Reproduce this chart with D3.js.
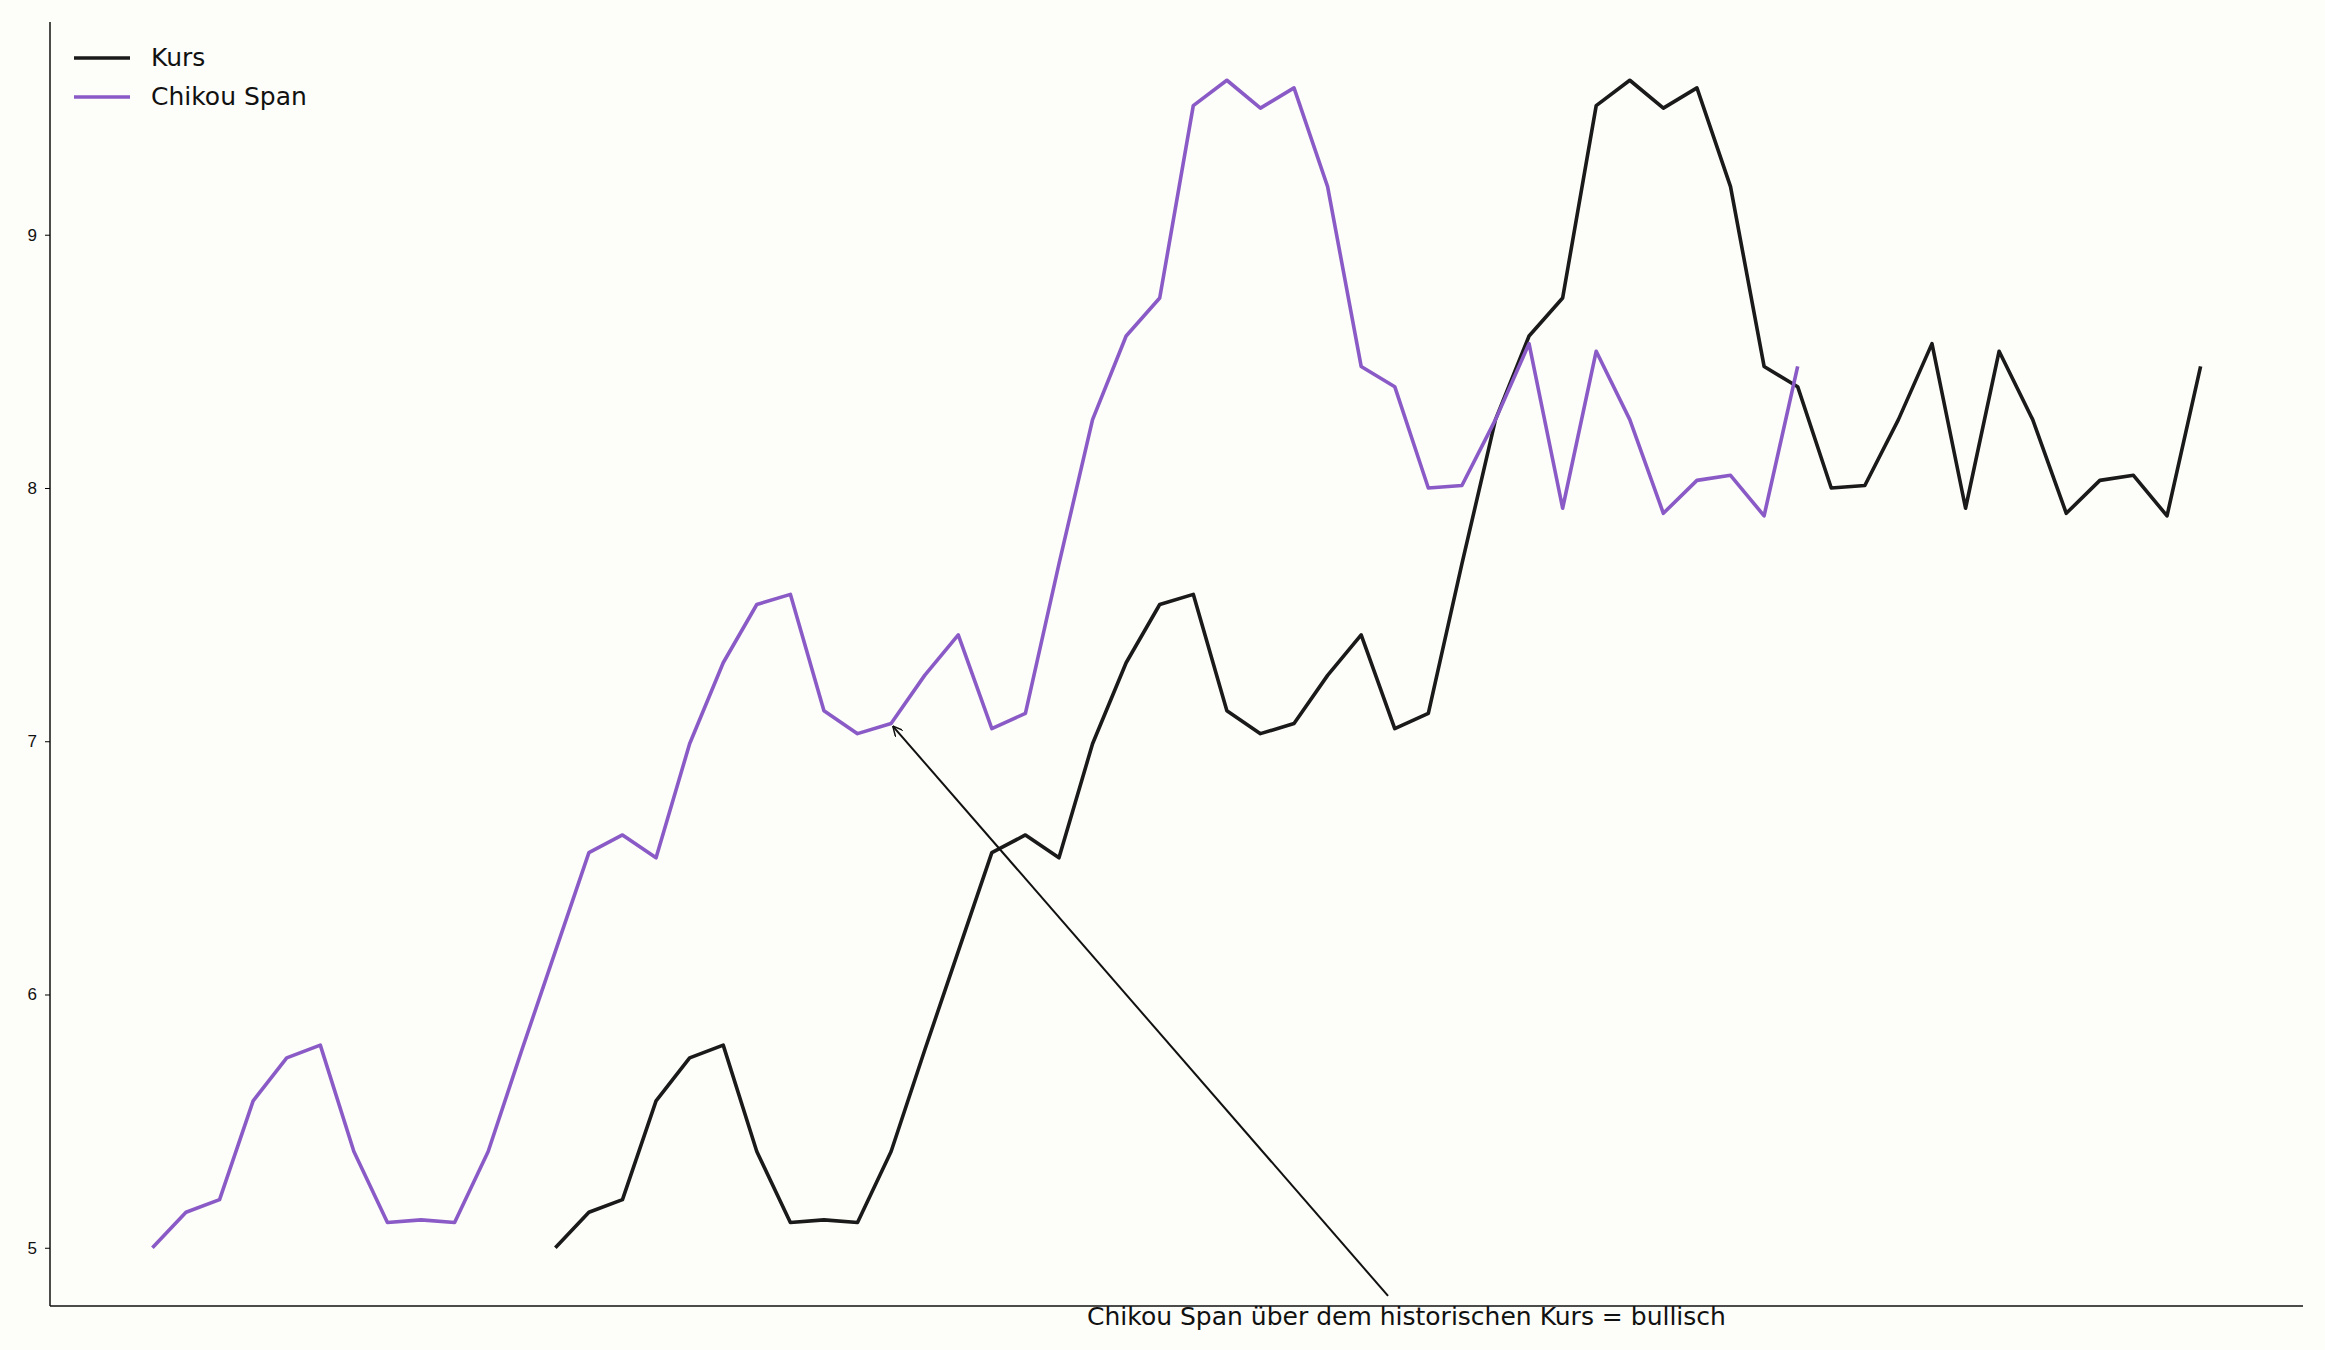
<!DOCTYPE html>
<html>
<head>
<meta charset="utf-8">
<script src="https://cdn.jsdelivr.net/npm/d3@7"></script>
<style>
  body { margin: 0; background: #fdfdf9; }
  svg { font-family: "DejaVu Sans", sans-serif; }
</style>
</head>
<body>
<div id="chart"></div>
<script>
const kurs = [5.00, 5.14, 5.19, 5.58, 5.75, 5.80, 5.38, 5.10, 5.11, 5.10,
  5.38, 5.78, 6.17, 6.56, 6.63, 6.54, 6.99, 7.31, 7.54, 7.58,
  7.12, 7.03, 7.07, 7.26, 7.42, 7.05, 7.11, 7.70, 8.27, 8.60,
  8.75, 9.51, 9.61, 9.50, 9.58, 9.19, 8.48, 8.40, 8.00, 8.01,
  8.27, 8.57, 7.92, 8.54, 8.27, 7.90, 8.03, 8.05, 7.89, 8.48];
const kursStart = 12;
const chikouShift = 12;
const yTicks = [5, 6, 7, 8, 9];
const seriesNames = ['Kurs', 'Chikou Span'];
const annotationText = 'Chikou Span über dem historischen Kurs = bullisch';

const width = 2325, height = 1350;
const margin = { top: 22, right: 22, bottom: 44, left: 50 };

const kursData = kurs.map((v, i) => ({ x: i + kursStart, y: v }));
const chikouData = kurs.map((v, i) => ({ x: i + kursStart - chikouShift, y: v }));

const svg = d3.select('#chart').append('svg')
  .attr('width', width).attr('height', height);

const x = d3.scaleLinear().domain([-3.05, 64.05]).range([margin.left, width - margin.right]);
const y = d3.scaleLinear().domain([4.77, 9.84]).range([height - margin.bottom, margin.top]);

const line = d3.line().x(d => x(d.x)).y(d => y(d.y));

svg.append('path').datum(kursData)
  .attr('fill', 'none').attr('stroke', '#1a1a1a').attr('stroke-width', 3.6)
  .attr('stroke-linejoin', 'round').attr('d', line);
svg.append('path').datum(chikouData)
  .attr('fill', 'none').attr('stroke', '#8a5bc6').attr('stroke-width', 3.6)
  .attr('stroke-linejoin', 'round').attr('d', line);

// axes
const yAxis = svg.append('g')
  .attr('transform', `translate(${margin.left},0)`)
  .call(d3.axisLeft(y).tickValues(yTicks).tickFormat(d3.format('d')).tickSizeOuter(0).tickSize(5).tickPadding(8));
yAxis.selectAll('text').attr('font-size', 17).attr('fill', '#111');
yAxis.select('.domain').attr('stroke', '#111').attr('stroke-width', 1.5)
  .attr('d', `M0,${margin.top}V${height - margin.bottom}`);

svg.append('line')
  .attr('x1', margin.left).attr('x2', width - margin.right)
  .attr('y1', height - margin.bottom).attr('y2', height - margin.bottom)
  .attr('stroke', '#111').attr('stroke-width', 1.5);

// annotation
svg.append('defs').append('marker')
  .attr('id', 'arr').attr('viewBox', '0 0 10 10').attr('refX', 10).attr('refY', 5)
  .attr('markerWidth', 10).attr('markerHeight', 10).attr('orient', 'auto')
  .attr('markerUnits', 'userSpaceOnUse')
  .append('path').attr('d', 'M0,0L10,5L0,10').attr('fill', 'none').attr('stroke', '#111').attr('stroke-width', 1.5);

svg.append('line')
  .attr('x1', x(36.8)).attr('y1', y(4.81))
  .attr('x2', x(22.05)).attr('y2', y(7.06))
  .attr('stroke', '#111').attr('stroke-width', 2)
  .attr('marker-end', 'url(#arr)');

svg.append('text')
  .attr('x', x(37.35)).attr('y', 1325)
  .attr('text-anchor', 'middle').attr('font-size', 25).attr('fill', '#111')
  .text(annotationText);

// legend
const legendColors = ['#1a1a1a', '#8a5bc6'];
const lg = svg.append('g').attr('transform', 'translate(74,58)');
seriesNames.forEach((n, i) => {
  const g = lg.append('g').attr('transform', `translate(0,${i * 39})`);
  g.append('line').attr('x1', 0).attr('x2', 56).attr('stroke', legendColors[i]).attr('stroke-width', 3.6);
  g.append('text').attr('x', 77).attr('y', 8).attr('font-size', 25).attr('fill', '#111').text(n);
});
</script>
</body>
</html>
